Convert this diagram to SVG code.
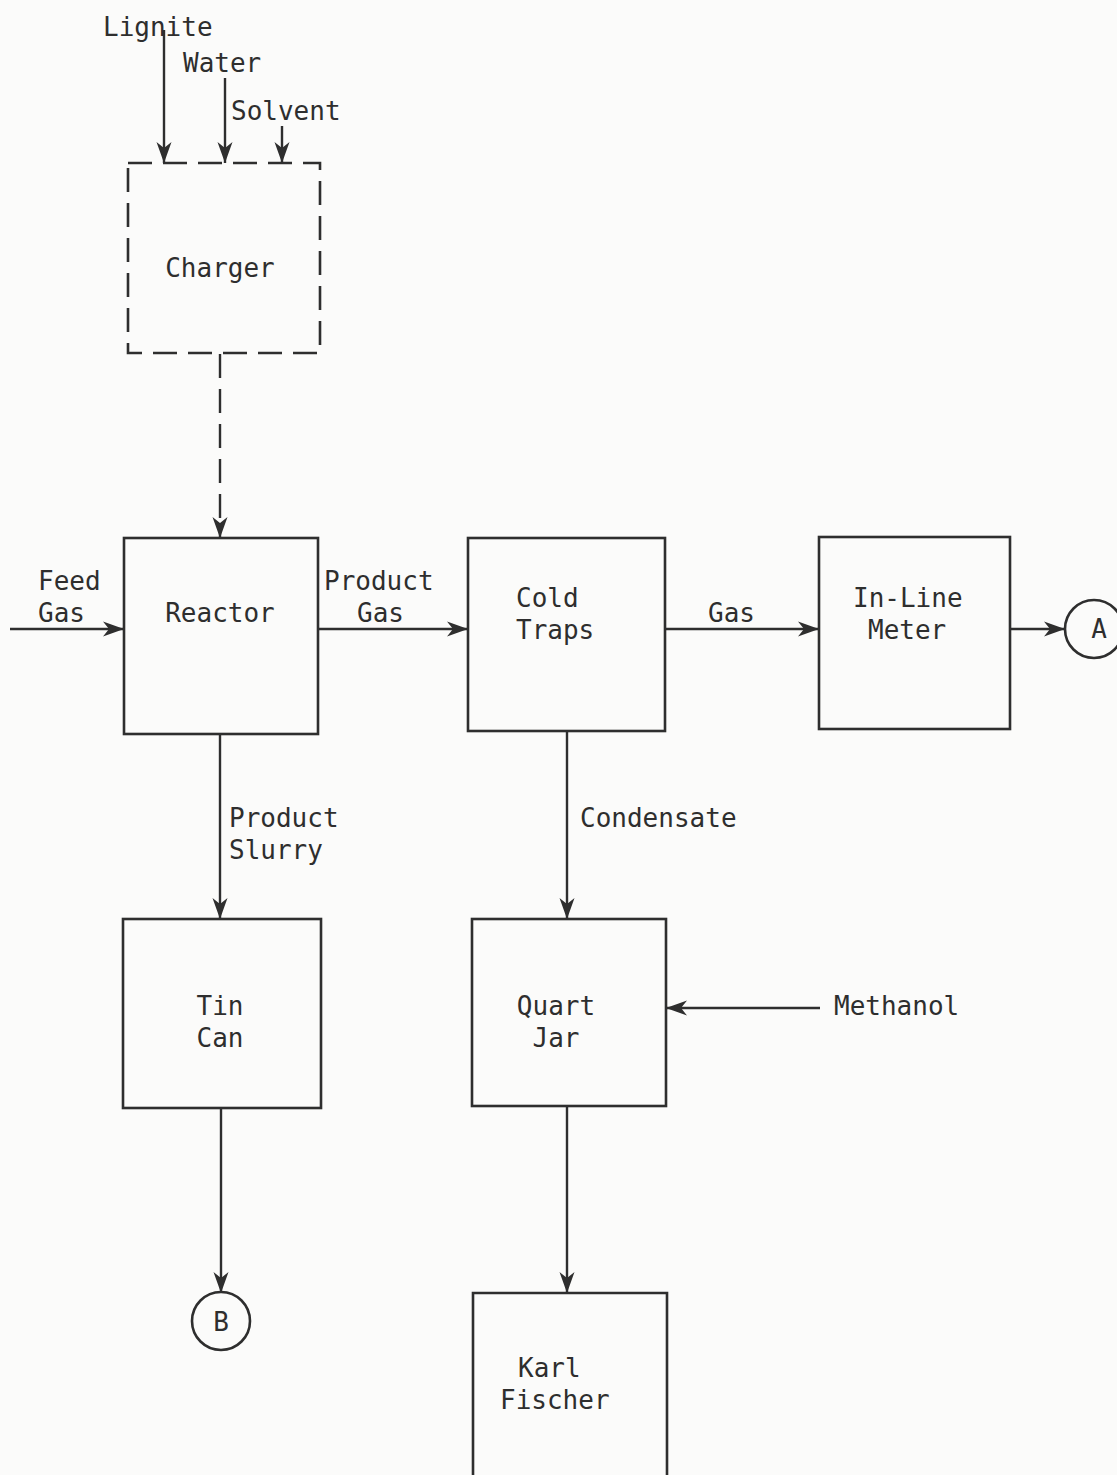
<svg xmlns="http://www.w3.org/2000/svg" width="1117" height="1475" viewBox="0 0 1117 1475">
<style>
.bx{fill:none;stroke:#2e2e2e;stroke-width:2.6}
.ln{fill:none;stroke:#2e2e2e;stroke-width:2.4}
.ds{stroke-dasharray:24,11}
text{font-family:"DejaVu Sans Mono","Liberation Mono",monospace;font-size:26px;fill:#2e2e2e}
.m{text-anchor:middle}
</style>
<defs>
<marker id="ah" markerUnits="userSpaceOnUse" markerWidth="24" markerHeight="18" refX="21" refY="9" orient="auto">
<path d="M0,1.5 L21,9 L0,16.5 L6,9 z" fill="#2e2e2e"/>
</marker>
</defs>
<rect width="1117" height="1475" fill="#fbfbfa"/>
<g id="connectors">
<line class="ln" x1="164" y1="30" x2="164" y2="163" marker-end="url(#ah)"/>
<line class="ln" x1="225" y1="78" x2="225" y2="163" marker-end="url(#ah)"/>
<line class="ln" x1="282" y1="126" x2="282" y2="163" marker-end="url(#ah)"/>
<line class="ln ds" x1="220" y1="354" x2="220" y2="538" marker-end="url(#ah)"/>
<line class="ln" x1="10" y1="629" x2="124" y2="629" marker-end="url(#ah)"/>
<line class="ln" x1="318" y1="629" x2="468" y2="629" marker-end="url(#ah)"/>
<line class="ln" x1="665" y1="629" x2="819" y2="629" marker-end="url(#ah)"/>
<line class="ln" x1="1010" y1="629" x2="1065" y2="629" marker-end="url(#ah)"/>
<line class="ln" x1="220" y1="734" x2="220" y2="919" marker-end="url(#ah)"/>
<line class="ln" x1="567" y1="731" x2="567" y2="919" marker-end="url(#ah)"/>
<line class="ln" x1="820" y1="1008" x2="666" y2="1008" marker-end="url(#ah)"/>
<line class="ln" x1="221" y1="1108" x2="221" y2="1293" marker-end="url(#ah)"/>
<line class="ln" x1="567" y1="1106" x2="567" y2="1293" marker-end="url(#ah)"/>
<text x="103" y="36">Lignite</text>
<text x="183" y="72">Water</text>
<text x="231" y="120">Solvent</text>
<text x="38" y="590">Feed</text>
<text x="38" y="622">Gas</text>
<text x="324" y="590">Product</text>
<text x="357" y="622">Gas</text>
<text x="708" y="622">Gas</text>
<text x="229" y="827">Product</text>
<text x="229" y="859">Slurry</text>
<text x="580" y="827">Condensate</text>
<text x="834" y="1015">Methanol</text>
</g>
<g id="charger">
<rect class="bx ds" x="128" y="163" width="192" height="190"/>
<text class="m" x="220" y="277">Charger</text>
</g>
<g id="reactor">
<rect class="bx" x="124" y="538" width="194" height="196"/>
<text class="m" x="220" y="622">Reactor</text>
</g>
<g id="cold-traps">
<rect class="bx" x="468" y="538" width="197" height="193"/>
<text x="516" y="607">Cold</text>
<text x="516" y="639">Traps</text>
</g>
<g id="in-line-meter">
<rect class="bx" x="819" y="537" width="191" height="192"/>
<text x="853" y="607">In-Line</text>
<text x="868" y="639">Meter</text>
</g>
<g id="circle-a">
<circle class="bx" cx="1094" cy="629" r="29"/>
<text class="m" x="1099" y="638">A</text>
</g>
<g id="tin-can">
<rect class="bx" x="123" y="919" width="198" height="189"/>
<text class="m" x="220" y="1015">Tin</text>
<text class="m" x="220" y="1047">Can</text>
</g>
<g id="circle-b">
<circle class="bx" cx="221" cy="1321" r="29"/>
<text class="m" x="221" y="1331">B</text>
</g>
<g id="quart-jar">
<rect class="bx" x="472" y="919" width="194" height="187"/>
<text class="m" x="556" y="1015">Quart</text>
<text class="m" x="556" y="1047">Jar</text>
</g>
<g id="karl-fischer">
<path class="bx" d="M473,1480 V1293 H667 V1480"/>
<text x="518" y="1377">Karl</text>
<text x="500" y="1409">Fischer</text>
</g>
</svg>
